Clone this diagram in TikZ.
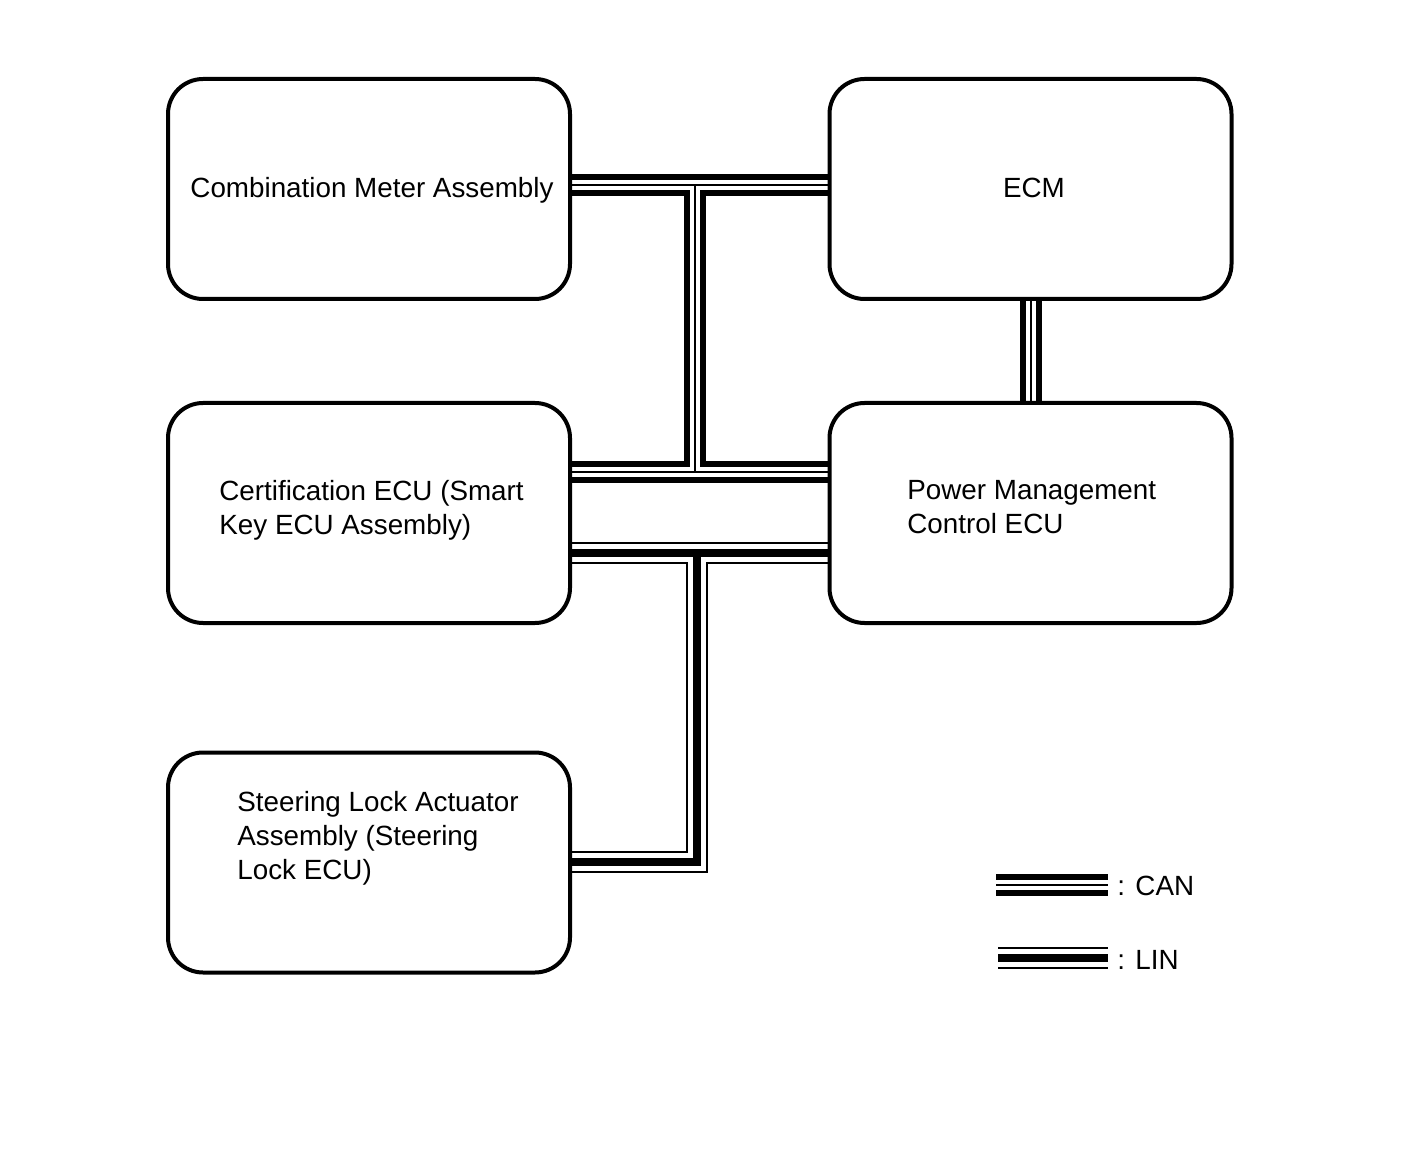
\documentclass[tikz,border=0pt]{standalone}
\usepackage{fontspec}
\setmainfont{Liberation Sans}
\usetikzlibrary{backgrounds}
\begin{document}
\begin{tikzpicture}[x=0.5pt,y=-0.5pt,
  box/.style={draw=black, line width=2pt, fill=white, rounded corners=17.5pt,
    minimum width=201pt, minimum height=110pt, inner sep=0pt},
  lbl/.style={font=\fontsize{13.9}{17}\selectfont, inner sep=0pt, align=left},
  canA/.style={line width=11pt, black},
  canB/.style={line width=5pt, white},
  canC/.style={line width=1pt, black},
  linA/.style={line width=11pt, black},
  linB/.style={line width=9pt, white},
  linC/.style={line width=4pt, black}]
\useasboundingbox (0,0) rectangle (1424,1160);
% boxes
\node[box] (cm) at (369,189) {};
\node[box] (ecm) at (1030.5,189) {};
\node[box] (cert) at (369,513) {};
\node[box] (pm) at (1030.5,513) {};
\node[box] (sla) at (369,862.5) {};
% labels
\node[lbl] (cmt) at (372,190) {Combination Meter Assembly};
\node[lbl] (ecmt) at (1034,188) {ECM};
\node[lbl, anchor=west] (certt) at (219,510) {Certification ECU (Smart\\Key ECU Assembly)};
\node[lbl, anchor=west] (pmt) at (907,507) {Power Management\\Control ECU};
\node[lbl, anchor=west] (slat) at (237,838.5) {Steering Lock Actuator\\Assembly (Steering\\Lock ECU)};
% junctions
\coordinate (j1) at (694.5,185);
\coordinate (j2) at (694.5,472);
\coordinate (j3) at (697,553);
\coordinate (j4) at (697,862);
% legend
\coordinate (canL1) at (996,885);
\coordinate (canL2) at (1108,885);
\coordinate (linL1) at (998,958);
\coordinate (linL2) at (1108,958);
\node[lbl, anchor=west] (cantxt) at (1117,886) {: CAN};
\node[lbl, anchor=west] (lintxt) at (1117,960) {: LIN};
\begin{pgfonlayer}{background}
\foreach \s in {canA,canB,canC}{
  \draw[\s] (cm.east |- j1) -- (ecm.west |- j1);
  \draw[\s] (j1) -- (j2);
  \draw[\s] (cert.east |- j2) -- (pm.west |- j2);
  \draw[\s] (ecm.south) -- (pm.north);
  \draw[\s] (canL1) -- (canL2);
}
\foreach \s in {linA,linB,linC}{
  \draw[\s] (cert.east |- j3) -- (pm.west |- j3);
  \draw[\s] (j3) -- (j4) -- (sla.east |- j4);
  \draw[\s] (linL1) -- (linL2);
}
\end{pgfonlayer}
\end{tikzpicture}
\end{document}
